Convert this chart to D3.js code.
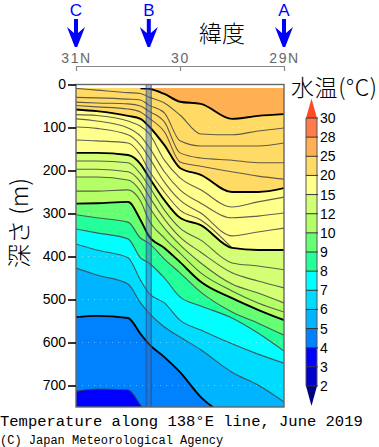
<!DOCTYPE html>
<html>
  <head>
    <meta charset="utf-8">
    <title>Temperature along 138E line</title>
    <script src="https://cdn.jsdelivr.net/npm/d3@7"></script>
    <style>
      body { margin: 0; background: #fff; }
      svg { display: block; }
      .sans { font-family: "Liberation Sans", sans-serif; }
      .cjk { font-family: "Noto Sans CJK JP", sans-serif; font-weight: 300; }
      .mono { font-family: "Liberation Mono", monospace; }
    </style>
  </head>

  <body>
    <div id="container"></div>

    <script>
      // data: sections are read at these latitudes, depths in metres
      const stationLats = [31, 30.8, 30.5, 30.38, 30.3, 30.15, 30, 29.8, 29.5, 29.25, 29];
      const surfaceDepth = 8;

      const t25 = [8, 8, 8, 9, 10, 22, 40, 45, 80, 73, 69];
      const t24 = [9, 13, 19, 21, 29, 43, 71, 115, 117, 108, 101];
      const t23 = [30, 31, 34, 36, 48, 66, 131, 143, 143, 143, 136];
      const t22 = [41, 43, 45, 50, 62, 87, 159, 171, 176, 182, 182];
      const t21 = [49, 52, 57, 64, 78, 110, 180, 190, 203, 213, 220];
      const t20 = [58, 62, 73, 80, 97, 141, 194, 210, 250, 250, 241];
      const t19 = [70, 72, 85, 97, 113, 176, 217, 245, 285, 273, 262];
      const t18 = [80, 85, 101, 120, 145, 203, 245, 276, 310, 306, 299];
      const t17 = [99, 102, 117, 141, 169, 227, 269, 299, 352, 343, 334];
      const t16 = [129, 131, 136, 164, 199, 250, 292, 315, 380, null, null];
      const t15 = [159, 159, 164, 185, 215, 269, 310, 327, 380, 385, 385];
      const t14 = [178, 178, 182, 208, 236, 292, 334, 362, 415, 422, 431];
      const t13 = [197, 197, 203, 227, 259, 313, 355, 390, 438, 457, 473];
      const t12 = [215, 215, 222, 248, 283, 334, 373, 415, 464, 485, 508];
      const t11 = [248, 248, 245, 271, 315, 357, 392, 438, 480, 508, 529];
      const t10 = [277, 276, 273, 315, 352, 380, 413, 459, 497, 524, 548];
      const t9 = [303, 310, 320, 357, 369, 406, 438, 483, 529, 555, 583];
      const t8 = [336, 345, 359, 403, 415, 450, 494, 515, 543, 578, 620];
      const t7 = [371, 385, 403, 455, 485, 508, 548, 571, 603, 627, 648];
      const t6 = [427, 443, 464, 508, 531, 564, 587, 617, 669, 699, 738];
      const t5 = [541, 538, 543, 580, 603, 634, 669, 727, 778, null, null];
      const t4 = [713, 708, 710, 745, 773, null, null, null, null, null, null];

      const barLevels = [30, 28, 25, 20, 15, 12, 10, 9, 8, 7, 6, 5, 4, 3, 2];
      const barColours = ["#ff7b4a", "#ffb052", "#ffdb66", "#ffff8c", "#d2ff73", "#b4ff66", "#66ff73",
        "#24ff99", "#00ffff", "#00dcff", "#00b4ff", "#0082ff", "#0000ff", "#0000cc"];
      const overColour = "#ff4a26";
      const underColour = "#000080";

      const depthTicks = [0, 100, 200, 300, 400, 500, 600, 700];
      const latTicks = [31, 30, 29];
      const latLabels = ["31N", "30", "29N"];
      const markerNames = ["C", "B", "A"];
      const markerLats = [31, 30.3, 29];

      const contours = [
        [25, t25], [24, t24], [23, t23], [22, t22], [21, t21], [20, t20], [19, t19], [18, t18],
        [17, t17], [16, t16], [15, t15], [14, t14], [13, t13], [12, t12], [11, t11], [10, t10],
        [9, t9], [8, t8], [7, t7], [6, t6], [5, t5], [4, t4]
      ];

      // scales
      const width = 379, height = 447;
      const xScale = d3.scaleLinear().domain([31, 29]).range([76, 284]);
      const yScale = d3.scaleLinear().domain([0, 750]).range([84.5, 407]);
      const barScale = d3.scalePoint().domain(barLevels).range([118, 386]);

      const svg = d3.select("#container").append("svg")
        .attr("width", width)
        .attr("height", height);

      svg.append("defs").append("clipPath")
        .attr("id", "plotClip")
        .append("rect")
          .attr("x", xScale(31))
          .attr("y", yScale(surfaceDepth))
          .attr("width", xScale(29) - xScale(31))
          .attr("height", yScale(750) - yScale(surfaceDepth));

      // filled bands, warmest first, each painted from its contour to the bottom
      const plot = svg.append("g").attr("clip-path", "url(#plotClip)");

      plot.append("rect")
        .attr("x", xScale(31))
        .attr("y", yScale(surfaceDepth))
        .attr("width", xScale(29) - xScale(31))
        .attr("height", yScale(750) - yScale(surfaceDepth))
        .style("fill", barColours[1]);

      const area = d3.area()
        .defined(d => d[1] !== null)
        .x(d => xScale(d[0]))
        .y0(yScale(750))
        .y1(d => yScale(d[1]))
        .curve(d3.curveMonotoneX);

      const line = d3.line()
        .defined(d => d[1] !== null && d[1] > surfaceDepth)
        .x(d => xScale(d[0]))
        .y(d => yScale(d[1]))
        .curve(d3.curveMonotoneX);

      const withLats = values => values.map((v, i) => [stationLats[i], v]);

      contours
        .filter(c => barLevels.includes(c[0]))
        .forEach(c => {
          plot.append("path")
            .attr("d", area(withLats(c[1])))
            .style("fill", barColours[barLevels.indexOf(c[0])]);
        });

      // faint dotted depth lines
      plot.selectAll(".grid")
        .data(depthTicks.slice(1))
        .enter().append("line")
          .attr("x1", xScale(31))
          .attr("x2", xScale(29))
          .attr("y1", d => yScale(d))
          .attr("y2", d => yScale(d))
          .style("stroke", "#fff")
          .style("stroke-opacity", 0.4)
          .style("stroke-dasharray", "1,5");

      // contour lines, every fifth degree heavier
      plot.selectAll(".contour")
        .data(contours)
        .enter().append("path")
          .attr("d", d => line(withLats(d[1])))
          .style("fill", "none")
          .style("stroke", d => d[0] % 5 === 0 ? "#000" : "#444")
          .style("stroke-width", d => d[0] % 5 === 0 ? 1.9 : 1.1)
          .style("stroke-opacity", d => d[0] % 5 === 0 ? 1 : 0.85);

      // ridge band at B
      const ridge = svg.append("g");
      ridge.append("rect")
        .attr("x", xScale(30.3) - 3.2)
        .attr("y", yScale(0))
        .attr("width", 6.4)
        .attr("height", yScale(750) - yScale(0))
        .style("fill", "#3f66b0")
        .style("fill-opacity", 0.45);
      [-2.4, 2.4].forEach(dx => {
        ridge.append("line")
          .attr("x1", xScale(30.3) + dx)
          .attr("x2", xScale(30.3) + dx)
          .attr("y1", yScale(0))
          .attr("y2", yScale(750))
          .style("stroke", "#123a78")
          .style("stroke-opacity", 0.35)
          .style("stroke-width", 1.4);
      });

      // frame
      svg.append("rect")
        .attr("x", xScale(31))
        .attr("y", yScale(0))
        .attr("width", xScale(29) - xScale(31))
        .attr("height", yScale(750) - yScale(0))
        .style("fill", "none")
        .style("stroke", "#666")
        .style("stroke-width", 1.4);

      // depth axis
      const yAxis = svg.append("g")
        .attr("transform", "translate(" + xScale(31) + ", 0)")
        .call(d3.axisLeft(yScale)
          .tickValues(depthTicks)
          .tickSize(8)
          .tickPadding(2)
        );
      yAxis.select(".domain").remove();
      yAxis.selectAll("line").style("stroke", "#000").style("stroke-width", 1.6);
      yAxis.selectAll("text")
        .attr("class", "sans")
        .style("font-size", "14px")
        .style("fill", "#000");

      // latitude axis
      const xAxis = svg.append("g")
        .attr("transform", "translate(0, 66)")
        .call(d3.axisTop(xScale)
          .tickValues(latTicks)
          .tickFormat((d, i) => latLabels[i])
          .tickSize(-5)
          .tickSizeOuter(0)
          .tickPadding(3)
        );
      xAxis.select(".domain").style("stroke", "#888").style("stroke-width", 1);
      xAxis.selectAll("line").style("stroke", "#888").style("stroke-width", 1.2);
      xAxis.selectAll("text")
        .attr("class", "sans")
        .style("font-size", "14px")
        .style("letter-spacing", "1.6px")
        .style("fill", "#666");

      // section markers
      const arrow = d3.line()(
        [[-2, 19], [2, 19], [2, 33], [9, 27], [1.2, 47], [-1.2, 47], [-9, 27], [-2, 33]]
      ) + "Z";
      const markers = svg.selectAll(".marker")
        .data(markerNames)
        .enter().append("g")
          .attr("transform", (d, i) => "translate(" + xScale(markerLats[i]) + ", 0)");
      markers.append("path")
        .attr("d", arrow)
        .style("fill", "#0000ff");
      markers.append("text")
        .attr("class", "sans")
        .attr("y", 16)
        .attr("text-anchor", "middle")
        .style("font-size", "17px")
        .style("fill", "#0000ff")
        .text(d => d);

      // colour bar
      const barX = 306, barW = 11;
      const bar = svg.append("g");
      bar.selectAll("rect")
        .data(barColours)
        .enter().append("rect")
          .attr("x", barX)
          .attr("y", (d, i) => barScale(barLevels[i]))
          .attr("width", barW)
          .attr("height", (d, i) => barScale(barLevels[i + 1]) - barScale(barLevels[i]))
          .style("fill", d => d);
      bar.append("path")
        .attr("d", d3.line()([[barX, barScale(30)], [barX + barW / 2, 98.5], [barX + barW, barScale(30)]]) + "Z")
        .style("fill", overColour);
      bar.append("path")
        .attr("d", d3.line()([[barX, barScale(2)], [barX + barW / 2, 406], [barX + barW, barScale(2)]]) + "Z")
        .style("fill", underColour);
      bar.append("path")
        .attr("d", "M" + barX + "," + barScale(2) + "V" + barScale(30) + "M" + (barX + barW) + "," + barScale(30) + "V" + barScale(2))
        .style("stroke", "#555")
        .style("stroke-width", 1);
      bar.selectAll(".barTick")
        .data(barLevels)
        .enter().append("line")
          .attr("x1", barX)
          .attr("x2", barX + barW + 1)
          .attr("y1", d => barScale(d))
          .attr("y2", d => barScale(d))
          .style("stroke", "#333")
          .style("stroke-width", 1);
      bar.selectAll("text")
        .data(barLevels)
        .enter().append("text")
          .attr("class", "sans")
          .attr("x", 320)
          .attr("y", d => barScale(d) + 5)
          .style("font-size", "14px")
          .text(d => d);

      // titles
      svg.append("text")
        .attr("class", "cjk")
        .attr("x", 199)
        .attr("y", 42)
        .style("font-size", "23px")
        .text("緯度");
      svg.append("text")
        .attr("class", "cjk")
        .attr("x", 291)
        .attr("y", 96)
        .style("font-size", "23px")
        .style("letter-spacing", "0.6px")
        .text("水温(°C)");
      svg.append("text")
        .attr("class", "cjk")
        .attr("transform", "translate(28, 268) rotate(-90)")
        .style("font-size", "24px")
        .text("深さ (m)");
      svg.append("text")
        .attr("class", "mono")
        .attr("x", 0)
        .attr("y", 426)
        .style("font-size", "15.5px")
        .text("Temperature along 138°E line, June 2019");
      svg.append("text")
        .attr("class", "mono")
        .attr("x", 0)
        .attr("y", 444)
        .style("font-size", "12px")
        .text("(C) Japan Meteorological Agency");
    </script>
  </body>
</html>
